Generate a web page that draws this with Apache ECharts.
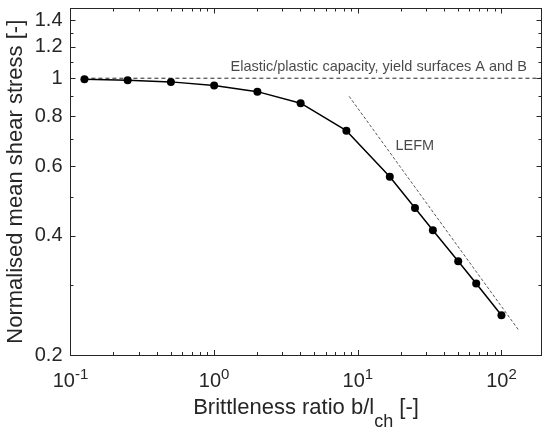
<!DOCTYPE html>
<html>
<head>
<meta charset="utf-8">
<script src="https://cdn.jsdelivr.net/npm/echarts@6/dist/echarts.min.js"></script>
<style>
    html, body { margin: 0; padding: 0; background: #fff; }
    #chart { width: 543px; height: 430px; }
</style>
</head>
<body>
<div id="chart"></div>
<script>
// brittleness ratio b/l_ch and normalised mean shear stress
const ratio = [0.125, 0.25, 0.5, 1, 2, 4, 8.33, 16.7, 25, 33.3, 50, 66.7, 100];
const stress = [0.994, 0.988, 0.979, 0.958, 0.925, 0.865, 0.737, 0.564, 0.470, 0.413, 0.345, 0.303, 0.252];

// elastic/plastic capacity (dashed, y = 1)
const capX = [0.125, 190];
const capY = [1, 1];

// LEFM asymptote (slope -1/2)
const lefmX = [8.7, 133];
const lefmY = [0.9, 0.23];

// axis ranges and ticks
const xMin = 0.1, xMax = 190;
const yMin = 0.2, yMax = 1.5;
const xMajor = [0.1, 1, 10, 100];
const xMinor = [0.2, 0.3, 0.4, 0.5, 0.6, 0.7, 0.8, 0.9, 2, 3, 4, 5, 6, 7, 8, 9, 20, 30, 40, 50, 60, 70, 80, 90];
const yMajor = [0.2, 0.4, 0.6, 0.8, 1, 1.2, 1.4];
const yMinor = [0.3, 0.5, 0.7, 0.9, 1.1, 1.3];

const ink = "#262626";
const font = "Liberation Sans, Arial, sans-serif";
const lg = v => Math.log10(v);
const pts = (xs, ys) => xs.map((x, i) => [lg(x), lg(ys[i])]);

function makeAxis(dim, pos, ticks, len, labels) {
    const range = dim === "x" ? [xMin, xMax] : [yMin, yMax];
    const ax = {
        type: "value",
        position: pos,
        min: lg(range[0]),
        max: lg(range[1]),
        axisLine: { show: true, onZero: false, lineStyle: { color: ink, width: 1 } },
        axisTick: {
            show: true,
            inside: true,
            length: len,
            customValues: ticks.map(lg),
            lineStyle: { color: ink, width: 1 },
        },
        axisLabel: { show: false },
        splitLine: { show: false },
    };
    if (labels) {
        ax.axisLabel = {
            show: true,
            customValues: ticks.map(lg),
            color: ink,
            fontFamily: font,
            fontSize: 20,
            margin: dim === "x" ? 12 : 8,
            formatter: dim === "x"
                ? v => `{b|10}{s|${Math.round(v)}}`
                : v => `${parseFloat(Math.pow(10, v).toFixed(1))}`,
            rich: {
                b: { fontSize: 20, fontFamily: font, color: ink, lineHeight: 24, verticalAlign: "bottom" },
                s: { fontSize: 15, fontFamily: font, color: ink, lineHeight: 15, verticalAlign: "top" },
            },
        };
    }
    return ax;
}

const xAxes = [
    makeAxis("x", "bottom", xMajor, 5, true),
    makeAxis("x", "bottom", xMinor, 3, false),
    makeAxis("x", "top", xMajor, 5, false),
    makeAxis("x", "top", xMinor, 3, false),
];
xAxes[0].name = "{t|Brittleness ratio b/l}{u|ch}{t| [-]}";
xAxes[0].nameLocation = "middle";
xAxes[0].nameGap = 42;
xAxes[0].nameMoveOverlap = false;
xAxes[0].nameTextStyle = {
    verticalAlign: "top",
    rich: {
        t: { fontSize: 22, fontFamily: font, color: ink, lineHeight: 26, verticalAlign: "top" },
        u: { fontSize: 18, fontFamily: font, color: ink, lineHeight: 18, verticalAlign: "top", padding: [16, 0, 0, 0] },
    },
};

const yAxes = [
    makeAxis("y", "left", yMajor, 5, true),
    makeAxis("y", "left", yMinor, 3, false),
    makeAxis("y", "right", yMajor, 5, false),
    makeAxis("y", "right", yMinor, 3, false),
];
yAxes[0].name = "Normalised mean shear stress [-]";
yAxes[0].nameLocation = "middle";
yAxes[0].nameRotate = 90;
yAxes[0].nameGap = 44;
yAxes[0].nameMoveOverlap = false;
yAxes[0].nameTextStyle = { fontSize: 22, fontFamily: font, color: ink };

const option = {
    animation: false,
    backgroundColor: "#fff",
    grid: { left: 70.5, right: 1.5, top: 8.5, bottom: 75, containLabel: false, outerBoundsMode: "none" },
    xAxis: xAxes,
    yAxis: yAxes,
    series: [
        {
            name: "capacity",
            type: "line",
            data: pts(capX, capY),
            symbol: "none",
            lineStyle: { color: ink, width: 1, type: [4, 3] },
            z: 1,
        },
        {
            name: "LEFM",
            type: "line",
            data: pts(lefmX, lefmY),
            symbol: "none",
            lineStyle: { color: "#444", width: 0.9, type: [3, 2] },
            z: 1,
        },
        {
            name: "FE",
            type: "line",
            data: pts(ratio, stress),
            symbol: "circle",
            symbolSize: 8,
            lineStyle: { color: "#000", width: 1.5 },
            itemStyle: { color: "#000" },
            z: 3,
        },
        {
            name: "notes",
            type: "scatter",
            symbolSize: 0,
            silent: true,
            data: [
                { value: [lg(1.3), lg(1.07)], text: "Elastic/plastic capacity, yield surfaces A and B" },
                { value: [lg(18.3), lg(0.675)], text: "LEFM" },
            ],
            label: {
                show: true,
                position: "right",
                distance: 0,
                formatter: p => p.data.text,
                color: "#1a1a1a",
                fontFamily: font,
                fontSize: 14.5,
            },
        },
    ],
};

const chart = echarts.init(document.getElementById("chart"));
chart.setOption(option);
</script>
</body>
</html>
